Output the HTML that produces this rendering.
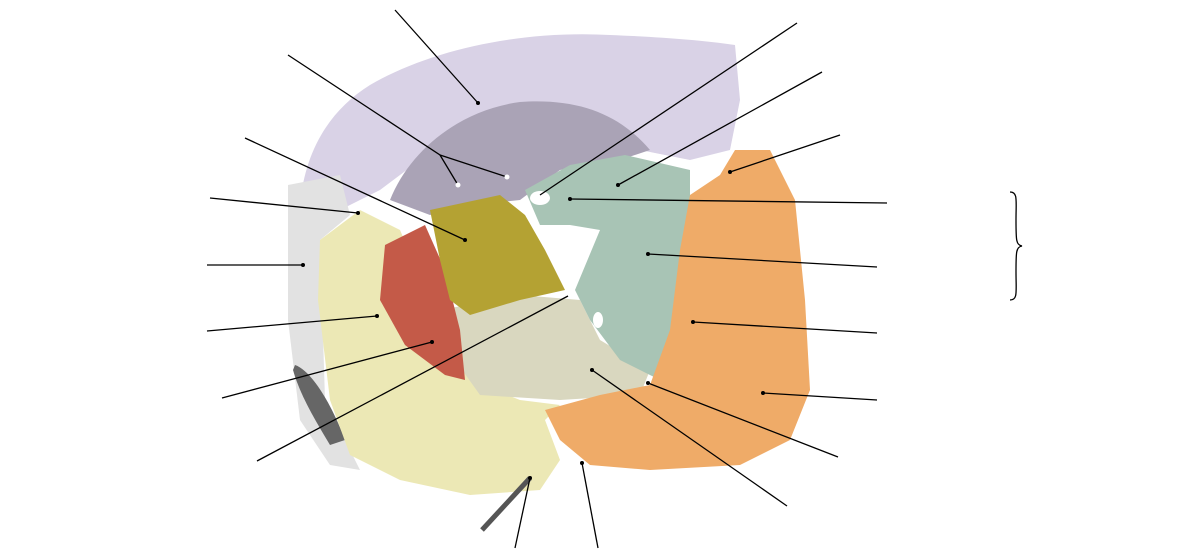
<!DOCTYPE html>
<html><head><meta charset="utf-8"><style>html,body{margin:0;padding:0;background:#fff}svg{display:block}</style></head>
<body>
<svg width="1199" height="560" viewBox="0 0 1199 560">
<g>
<path d="M300,205 C305,150 330,110 370,85 C430,50 520,30 610,35 C660,37 700,40 735,45 L740,100 L730,150 L690,160 L640,150 L600,125 L540,110 L470,120 L420,160 L380,190 L340,210 Z" fill="#d9d2e6"/>
<path d="M390,200 C410,150 460,110 520,102 C580,98 620,115 650,150 L620,160 L560,170 L520,200 L470,205 L430,215 Z" fill="#aaa3b6"/>
</g>
<path d="M288,185 L340,175 L350,215 L320,240 L325,400 L360,470 L330,465 L300,420 L288,320 Z" fill="#e2e2e2"/>
<path d="M295,365 C310,370 330,400 345,440 L330,445 C315,420 300,395 293,370 Z" fill="#666"/>
<path d="M320,240 L360,210 L400,230 L430,300 L470,380 L520,400 L560,405 L545,420 L560,460 L540,490 L470,495 L400,480 L350,455 L330,400 L318,300 Z" fill="#ece8b5"/>
<path d="M440,310 L520,295 L580,300 L600,340 L650,370 L640,395 L560,400 L480,395 L455,360 Z" fill="#d9d7bf"/>
<path d="M385,245 L425,225 L445,270 L460,330 L465,380 L445,375 L405,345 L380,300 Z" fill="#c45a48"/>
<path d="M430,210 L500,195 L525,215 L545,250 L565,290 L520,300 L470,315 L450,300 L440,260 Z" fill="#b4a233"/>
<path d="M525,190 L570,165 L625,155 L690,170 L690,250 L680,310 L660,380 L620,360 L590,320 L575,290 L600,230 L570,225 L540,225 Z" fill="#a8c4b5"/>
<path d="M735,150 L770,150 L795,200 L805,300 L810,390 L790,440 L740,465 L650,470 L590,465 L560,440 L545,410 L600,395 L650,385 L670,330 L680,250 L690,195 L720,175 Z" fill="#efab68"/>
<ellipse cx="540" cy="198" rx="10" ry="7" fill="#fff"/>
<ellipse cx="598" cy="320" rx="5" ry="8" fill="#fff"/>
<line x1="482" y1="530" x2="530" y2="478" stroke="#555" stroke-width="5"/>
<g stroke="#000" stroke-width="1.3" fill="none">
<line x1="395" y1="10" x2="478" y2="103"/>
<polyline points="288,55 440,155 458,185"/>
<line x1="440" y1="155" x2="507" y2="177"/>
<line x1="245" y1="138" x2="465" y2="240"/>
<line x1="210" y1="198" x2="358" y2="213"/>
<line x1="207" y1="265" x2="303" y2="265"/>
<line x1="207" y1="331" x2="377" y2="316"/>
<line x1="222" y1="398" x2="432" y2="342"/>
<line x1="257" y1="461" x2="568" y2="296"/>
<line x1="515" y1="548" x2="530" y2="478"/>
<line x1="598" y1="548" x2="582" y2="463"/>
<line x1="797" y1="23" x2="540" y2="195"/>
<line x1="822" y1="72" x2="618" y2="185"/>
<line x1="840" y1="135" x2="730" y2="172"/>
<line x1="887" y1="203" x2="570" y2="199"/>
<line x1="877" y1="267" x2="648" y2="254"/>
<line x1="877" y1="333" x2="693" y2="322"/>
<line x1="877" y1="400" x2="763" y2="393"/>
<line x1="838" y1="457" x2="648" y2="383"/>
<line x1="787" y1="506" x2="592" y2="370"/>
<path d="M1010,192 C1018,192 1016,200 1016,220 C1016,240 1016,245 1022,246 C1016,247 1016,252 1016,272 C1016,292 1018,300 1010,300"/>
</g>
<g fill="#000">
<circle cx="478" cy="103" r="2"/><circle cx="465" cy="240" r="2"/><circle cx="358" cy="213" r="2"/><circle cx="303" cy="265" r="2"/><circle cx="377" cy="316" r="2"/><circle cx="432" cy="342" r="2"/><circle cx="618" cy="185" r="2"/><circle cx="730" cy="172" r="2"/><circle cx="570" cy="199" r="2"/><circle cx="648" cy="254" r="2"/><circle cx="693" cy="322" r="2"/><circle cx="763" cy="393" r="2"/><circle cx="648" cy="383" r="2"/><circle cx="592" cy="370" r="2"/><circle cx="582" cy="463" r="2"/><circle cx="530" cy="478" r="2"/>
</g>
<circle cx="458" cy="185" r="2.5" fill="#fff"/>
<circle cx="507" cy="177" r="2.5" fill="#fff"/>
</svg>
</body></html>
